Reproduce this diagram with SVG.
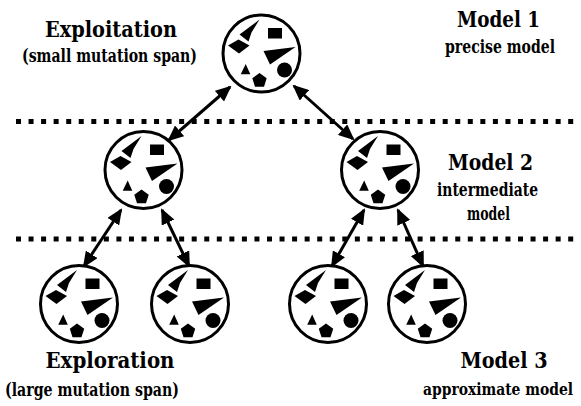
<svg xmlns="http://www.w3.org/2000/svg" width="581" height="406" viewBox="0 0 581 406">
<style>
.t{font-family:'DejaVu Serif Condensed','DejaVu Serif',serif;font-weight:bold;fill:#000;text-anchor:middle}
.h{font-size:22px}
.s{font-size:18.5px}
.e{text-anchor:end;font-size:17px}
.node{fill:#fff;stroke:#000;stroke-width:3}
.dots{stroke:#000;stroke-width:5;stroke-dasharray:5 7.55;fill:none}
.conn{stroke:#000;stroke-width:3;fill:none;marker-start:url(#ah);marker-end:url(#ah)}
</style>
<defs>
<marker id="ah" markerUnits="userSpaceOnUse" markerWidth="16" markerHeight="14" refX="14" refY="7" orient="auto-start-reverse" viewBox="0 0 16 14">
<path d="M0,0 L16,7 L0,14 Z" fill="#000"/>
</marker>
<g id="sh" fill="#000">
<polygon points="-2,-34 -22,-19 -13,-12 -10,-21"/>
<rect x="6.5" y="-25.5" width="14" height="10.5"/>
<polygon points="-33.5,-8 -23,-14 -12,-8 -22.5,0"/>
<polygon points="2,-2.5 34,-6.5 8.5,11"/>
<polygon points="-15.8,10.5 -20.8,20.7 -11.2,20.7"/>
<polygon points="-2,19.5 5.2,24.7 2.5,33.2 -6.5,33.2 -9.2,24.7"/>
<circle cx="23" cy="16.5" r="7.5"/>
</g>
</defs>
<rect width="581" height="406" fill="#fff"/>
<g id="levels">
<line class="dots" x1="16" y1="121.5" x2="578" y2="121.5"/>
<line class="dots" x1="16" y1="239" x2="578" y2="239"/>
</g>
<g id="connectors">
<line class="conn" x1="230" y1="87" x2="169" y2="140"/>
<line class="conn" x1="294" y1="86" x2="353" y2="139"/>
<line class="conn" x1="121" y1="210" x2="84" y2="266"/>
<line class="conn" x1="162" y1="210" x2="189" y2="266"/>
<line class="conn" x1="364" y1="210" x2="332" y2="266"/>
<line class="conn" x1="398" y1="210" x2="423" y2="266"/>
</g>
<g id="n1"><circle class="node" cx="261.5" cy="53.5" r="38.5"/><use href="#sh" x="261.5" y="53.5"/></g>
<g id="n2"><circle class="node" cx="143.5" cy="170" r="38.5"/><use href="#sh" x="143.5" y="170"/></g>
<g id="n3"><circle class="node" cx="380" cy="170" r="38.5"/><use href="#sh" x="380" y="170"/></g>
<g id="n4"><circle class="node" cx="79" cy="304" r="38.5"/><use href="#sh" x="79" y="304"/></g>
<g id="n5"><circle class="node" cx="190" cy="304" r="38.5"/><use href="#sh" x="190" y="304"/></g>
<g id="n6"><circle class="node" cx="328" cy="304" r="38.5"/><use href="#sh" x="328" y="304"/></g>
<g id="n7"><circle class="node" cx="427" cy="304" r="38.5"/><use href="#sh" x="427" y="304"/></g>
<g id="labels">
<text class="t h" x="111" y="37" textLength="132" lengthAdjust="spacingAndGlyphs">Exploitation</text>
<text class="t s" x="109.5" y="62" textLength="175" lengthAdjust="spacingAndGlyphs">(small mutation span)</text>
<text class="t h" x="498.5" y="27" textLength="83" lengthAdjust="spacingAndGlyphs">Model 1</text>
<text class="t s" x="500" y="53" textLength="110" lengthAdjust="spacingAndGlyphs">precise model</text>
<text class="t h" x="490.5" y="170" textLength="85" lengthAdjust="spacingAndGlyphs">Model 2</text>
<text class="t s" x="487.5" y="196" textLength="101" lengthAdjust="spacingAndGlyphs">intermediate</text>
<text class="t s" x="488.5" y="220" textLength="43" lengthAdjust="spacingAndGlyphs">model</text>
<text class="t h" x="110" y="368" textLength="129" lengthAdjust="spacingAndGlyphs">Exploration</text>
<text class="t s" x="92" y="396" textLength="174" lengthAdjust="spacingAndGlyphs">(large mutation span)</text>
<text class="t h" x="504" y="368" textLength="87" lengthAdjust="spacingAndGlyphs">Model 3</text>
<text class="t e" x="573" y="395" textLength="150" lengthAdjust="spacingAndGlyphs">approximate model</text>
</g>
</svg>
